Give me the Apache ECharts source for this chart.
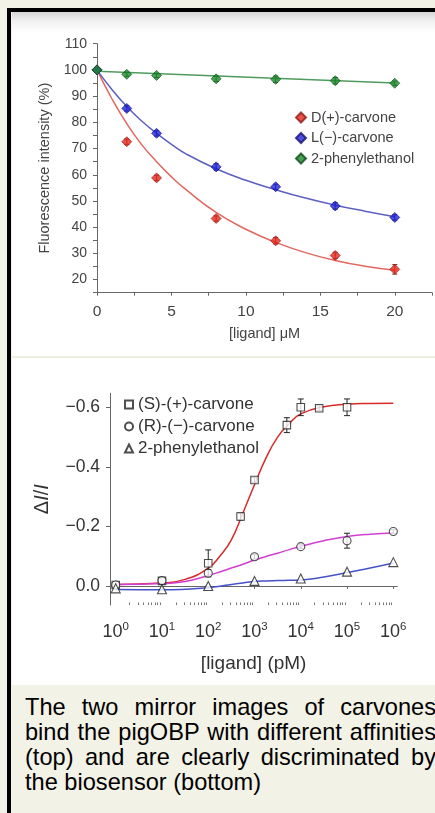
<!DOCTYPE html>
<html>
<head>
<meta charset="utf-8">
<script src="https://cdn.jsdelivr.net/npm/echarts@6/dist/echarts.min.js"></script>
<style>
  html, body { margin: 0; padding: 0; width: 435px; height: 813px; overflow: hidden; background: #f3f2e7; }
  #frame { position: absolute; left: 7px; top: 8px; right: 0; bottom: 0; border-left: 4px solid #000; border-top: 4px solid #000; }
  #topPanel { position: absolute; left: 12px; top: 12px; width: 423px; height: 344px;
         background: linear-gradient(to bottom, #d6d6d6 0px, #efefef 8px, #fff 20px); }
  #sep { position: absolute; left: 12px; top: 356px; width: 423px; height: 2px; background: #eeeede; }
  #bottomPanel { position: absolute; left: 12px; top: 358px; width: 423px; height: 327px; background: #fff; }
  #caption { position: absolute; left: 25px; top: 695px; width: 411px; font-family: 'Liberation Sans', Arial, sans-serif;
             font-size: 23.6px; line-height: 25px; color: #000; text-align: justify; }
</style>
</head>
<body>
<div id="frame"></div>
<div id="topPanel"></div>
<div id="sep"></div>
<div id="bottomPanel"></div>
<div id="caption">The two mirror images of carvones bind the pigOBP with different affinities (top) and are clearly discriminated by the biosensor (bottom)</div>
<script>
const FONT = "'Liberation Sans', Arial, sans-serif"

// top panel: fluorescence vs ligand (uM)
const topX = [0, 2, 4, 8, 12, 16, 20]
const dCarvone = [100, 72.6, 58.8, 43.3, 34.8, 29.2, 23.9]
const dErr = [0, 1, 1, 1, 1.2, 1.2, 1.8]
const lCarvone = [100, 85.3, 75.8, 63.0, 55.4, 48.1, 43.7]
const lErr = [0, 1, 1, 1.2, 1, 1.2, 1]
const phenyl = [100, 98.3, 97.9, 96.6, 96.4, 95.9, 94.9]
const pErr = [0, 0.8, 0.8, 1, 1.2, 1.2, 0.8]
// fitted curves
const fitX = [0, 1, 2, 3, 4, 5, 6, 8, 10, 12, 14, 16, 18, 20]
const dFit = [100, 89, 79.5, 71.5, 65, 59.2, 54.2, 45.6, 39.2, 34.2, 30.3, 27.3, 25.1, 23.6]
const lFit = [100, 92.5, 86, 80.5, 75.8, 71.6, 67.9, 62.3, 57.9, 54.3, 51.1, 48.4, 46.1, 44.0]
const pFitX = [0, 20]
const pFit = [99.5, 95.0]

// bottom panel: biosensor response vs ligand (pM)
const redX = [1, 10, 100, 500, 1000, 5000, 10000, 25000, 100000]
const redY = [-0.003, -0.017, -0.076, -0.233, -0.356, -0.54, -0.6, -0.597, -0.6]
const redErr = [0, 0.008, 0.045, 0.012, 0.008, 0.025, 0.028, 0.008, 0.028]
const magX = [1, 10, 100, 1000, 10000, 100000, 1000000]
const magY = [-0.003, -0.018, -0.043, -0.098, -0.132, -0.152, -0.183]
const magErr = [0, 0.008, 0.012, 0.008, 0.006, 0.025, 0.006]
const triX = [1, 10, 100, 1000, 10000, 100000, 1000000]
const triY = [0.008, 0.011, 0.0, -0.017, -0.025, -0.048, -0.08]
const fitPM = [1, 10, 31.6, 100, 178, 316, 562, 1000, 1778, 3162, 5623, 10000, 31623, 100000, 316228, 1000000]
const redFit = [-0.005, -0.01, -0.022, -0.06, -0.1, -0.155, -0.245, -0.34, -0.43, -0.5, -0.545, -0.578, -0.602, -0.61, -0.613, -0.614]
const magFit = [-0.005, -0.008, -0.015, -0.035, -0.047, -0.06, -0.073, -0.087, -0.099, -0.11, -0.122, -0.133, -0.152, -0.166, -0.174, -0.178]
const triFit = [0.012, 0.013, 0.011, 0.006, 0.001, -0.005, -0.01, -0.015, -0.017, -0.018, -0.019, -0.02, -0.03, -0.045, -0.06, -0.077]
const decadeTicks = [1, 10, 100, 1000, 10000, 100000, 1000000]
const yTicksBottom = [-0.6, -0.4, -0.2, 0]

function pairs(xs, ys) {
  return xs.map((x, i) => [x, ys[i]])
}

function errBars(xs, ys, es, color, cap) {
  return {
    type: 'custom',
    silent: true,
    z: 3,
    encode: { x: 0, y: 1 },
    data: xs.map((x, i) => [x, ys[i], es[i]]),
    renderItem(params, api) {
      const e = api.value(2)
      if (!e) return null
      const lo = api.coord([api.value(0), api.value(1) - e])
      const hi = api.coord([api.value(0), api.value(1) + e])
      const st = { stroke: color, lineWidth: 1 }
      return {
        type: 'group',
        children: [
          { type: 'line', shape: { x1: lo[0], y1: lo[1], x2: hi[0], y2: hi[1] }, style: st },
          { type: 'line', shape: { x1: lo[0] - cap, y1: lo[1], x2: lo[0] + cap, y2: lo[1] }, style: st },
          { type: 'line', shape: { x1: hi[0] - cap, y1: hi[1], x2: hi[0] + cap, y2: hi[1] }, style: st }
        ]
      }
    }
  }
}

function fitLine(data, color) {
  return {
    type: 'line', data: data, smooth: true, showSymbol: false, silent: true, z: 2,
    lineStyle: { color: color, width: 1.5 }
  }
}

const topChart = echarts.init(document.getElementById('topPanel'), null, { renderer: 'canvas' })
topChart.setOption({
  animation: false,
  textStyle: { fontFamily: FONT },
  grid: { left: 85, top: 31.7, width: 335, height: 249 },
  legend: {
    orient: 'vertical', left: 278, top: 93, itemWidth: 10, itemHeight: 10, itemGap: 5.5,
    icon: 'diamond',
    textStyle: { fontSize: 14.5, color: '#444', fontFamily: FONT },
    data: ['D(+)-carvone', 'L(−)-carvone', '2-phenylethanol']
  },
  xAxis: {
    type: 'value', min: 0, max: 22.5, interval: 2.5,
    name: '[ligand] μM', nameLocation: 'middle', nameGap: 34,
    nameTextStyle: { fontSize: 14.5, color: '#444' },
    axisLine: { lineStyle: { color: '#666' } },
    axisTick: { length: 3, lineStyle: { color: '#666' } },
    axisLabel: { fontSize: 15.5, color: '#444', margin: 11, formatter: v => (v % 5 === 0 ? String(v) : '') },
    splitLine: { show: false }
  },
  yAxis: {
    type: 'value', min: 15, max: 110, interval: 5,
    name: 'Fluorescence intensity (%)', nameLocation: 'middle', nameGap: 40,
    nameTextStyle: { fontSize: 14.5, color: '#444' },
    axisLine: { show: true, lineStyle: { color: '#666' } },
    axisTick: { show: true, length: 4, lineStyle: { color: '#666' } },
    axisLabel: { fontSize: 14, color: '#444', margin: 10, formatter: v => (v % 10 === 0 ? String(v) : '') },
    splitLine: { show: false }
  },
  series: [
    fitLine(pairs(fitX, dFit), '#e2675f'),
    fitLine(pairs(fitX, lFit), '#5d60c2'),
    fitLine(pairs(pFitX, pFit), '#4f9a5e'),
    errBars(topX, dCarvone, dErr, '#7a1a12', 2.5),
    errBars(topX, lCarvone, lErr, '#141470', 2.5),
    errBars(topX, phenyl, pErr, '#0f4a18', 2.5),
    { name: 'D(+)-carvone', type: 'scatter', symbol: 'diamond', symbolSize: 10, z: 4, data: pairs(topX, dCarvone),
      itemStyle: { color: '#e5271c', borderColor: '#8d1d14', borderWidth: 0.8 } },
    { name: 'L(−)-carvone', type: 'scatter', symbol: 'diamond', symbolSize: 10, z: 4, data: pairs(topX, lCarvone),
      itemStyle: { color: '#2024d8', borderColor: '#141470', borderWidth: 0.8 } },
    { name: '2-phenylethanol', type: 'scatter', symbol: 'diamond', symbolSize: 10, z: 4, data: pairs(topX, phenyl),
      itemStyle: { color: '#1b8a2b', borderColor: '#0f4a18', borderWidth: 0.8 } }
  ]
})

const minorPM = []
for (let n = 0; n < 6; n++) {
  for (let k = 2; k < 10; k++) minorPM.push(k * Math.pow(10, n))
}

const bottomChart = echarts.init(document.getElementById('bottomPanel'), null, { renderer: 'canvas' })
bottomChart.setOption({
  animation: false,
  textStyle: { fontFamily: FONT },
  grid: { left: 98, top: 35.3, width: 287.3, height: 211.7 },
  legend: {
    orient: 'vertical', left: 107, top: 33, itemWidth: 8, itemHeight: 8, itemGap: 5,
    textStyle: { fontSize: 17, color: '#333', fontFamily: FONT },
    data: [
      { name: '(S)-(+)-carvone', icon: 'rect' },
      { name: '(R)-(−)-carvone', icon: 'circle' },
      { name: '2-phenylethanol', icon: 'triangle' }
    ]
  },
  xAxis: [{
    type: 'log', logBase: 10, min: 0.753, max: 1220000,
    name: '[ligand] (pM)', nameLocation: 'middle', nameGap: 49,
    nameTextStyle: { fontSize: 19, color: '#333' },
    axisLine: { lineStyle: { color: '#666' } },
    axisTick: { length: 3, customValues: decadeTicks, lineStyle: { color: '#666' } },
    axisLabel: {
      customValues: decadeTicks, margin: 16, color: '#333',
      formatter: v => '{b|10}{s|' + Math.round(Math.log10(v)) + '}',
      rich: { b: { fontSize: 18, color: '#333', lineHeight: 22 }, s: { fontSize: 11.5, color: '#333', verticalAlign: 'top' } }
    },
    splitLine: { show: false }
  }, {
    type: 'log', logBase: 10, min: 0.753, max: 1220000, position: 'bottom',
    axisLine: { show: false },
    axisTick: { inside: true, length: 2.5, customValues: minorPM, lineStyle: { color: '#777' } },
    axisLabel: { show: false },
    splitLine: { show: false }
  }],
  yAxis: {
    type: 'value', inverse: true, min: -0.647, max: 0.064,
    name: '{i|Δ}{it|I}{i|/}{it|I}', nameLocation: 'middle', nameGap: 58,
    nameTextStyle: {
      rich: { i: { fontSize: 20, color: '#333' }, it: { fontSize: 20, color: '#333', fontStyle: 'italic' } }
    },
    axisLine: { show: true, lineStyle: { color: '#666' } },
    axisTick: { show: true, length: 4, customValues: yTicksBottom, lineStyle: { color: '#666' } },
    axisLabel: {
      customValues: yTicksBottom, fontSize: 17.5, color: '#333', margin: 10,
      formatter: v => (v < 0 ? '−' : '') + Math.abs(v).toFixed(1)
    },
    splitLine: { show: false }
  },
  series: [
    fitLine(pairs(fitPM, triFit), '#4553c8'),
    fitLine(pairs(fitPM, redFit), '#d92a2a'),
    fitLine(pairs(fitPM, magFit), '#d23ed2'),
    errBars(redX, redY, redErr, '#222', 3),
    errBars(magX, magY, magErr, '#222', 3),
    { name: '(S)-(+)-carvone', type: 'scatter', symbol: 'rect', symbolSize: 7.5, z: 4, data: pairs(redX, redY),
      itemStyle: { color: '#fff', borderColor: '#222', borderWidth: 1.1 } },
    { name: '(R)-(−)-carvone', type: 'scatter', symbol: 'circle', symbolSize: 8, z: 4, data: pairs(magX, magY),
      itemStyle: { color: '#fff', borderColor: '#222', borderWidth: 1.1 } },
    { name: '2-phenylethanol', type: 'scatter', symbol: 'triangle', symbolSize: 9, z: 4, data: pairs(triX, triY),
      itemStyle: { color: '#fff', borderColor: '#222', borderWidth: 1.1 } }
  ]
})
</script>
</body>
</html>
